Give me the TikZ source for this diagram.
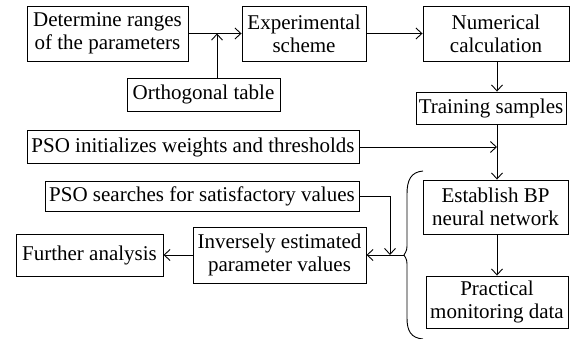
\documentclass[tikz,border=0pt]{standalone}
\usepackage{fontspec}
\setmainfont{Liberation Serif}
\usetikzlibrary{arrows.meta, calc}

\begin{document}
\begin{tikzpicture}[x=1pt, y=-1pt, line width=0.9pt,
		box/.style={draw, align=center, inner sep=1pt, font=\fontsize{21}{23}\selectfont},
		arr/.style={-{Straight Barb[length=6pt, width=11pt]}}]
		\useasboundingbox (0,0) rectangle (573,339);

		\def\spineX{497};

		\coordinate (J) at (217,33.5);
		\coordinate (spine) at (\spineX,0);
		\coordinate (tip) at (404,255);
		\coordinate (drop) at (390,255);

		\node[box, minimum width=161pt, minimum height=55pt] (det) at (107.5,33.5) {Determine ranges\\of the parameters};
		\node[box, minimum width=153pt, minimum height=33pt] (orth) at (203.5,94.5) {Orthogonal table};
		\node[box, minimum width=124pt, minimum height=55pt] (exper) at (304,33.5) {Experimental\\scheme};
		\node[box, minimum width=146pt, minimum height=55pt] (numcalc) at (496,33.5) {Numerical\\calculation};
		\node[box, minimum width=150pt, minimum height=32pt] (train) at (491,108) {Training samples};
		\node[box, minimum width=332pt, minimum height=33pt] (psoinit) at (193,147) {PSO initializes weights and thresholds};
		\node[box, minimum width=314pt, minimum height=30pt] (psosearch) at (202,196.5) {PSO searches for satisfactory values};
		\node[box, minimum width=145pt, minimum height=54pt] (bpnet) at (495.5,207) {Establish BP\\neural network};
		\node[box, minimum width=142pt, minimum height=52pt] (practical) at (497,302) {Practical\\monitoring data};
		\node[box, minimum width=173pt, minimum height=56pt] (inverse) at (279.5,255) {Inversely estimated\\parameter values};
		\node[box, minimum width=147pt, minimum height=42pt] (further) at (89.5,255) {Further analysis};

		\draw[arr] (det) -- (exper);
		\draw[arr] (orth.north -| J) -- (J);
		\draw[arr] (exper) -- (numcalc);
		\draw[arr] (numcalc.south -| spine) -- (train.north -| spine);
		\draw[arr] (train.south -| spine) -- (bpnet.north -| spine);
		\draw[arr] (psoinit) -- (psoinit -| spine);
		\draw[arr] (bpnet.south -| spine) -- (practical.north -| spine);

		% brace round the network part
		\draw (423,171) .. controls (411,172) and (407,180) .. (407,194) -- (407,242)
			.. controls (407,250) .. (tip) .. controls (407,260) .. (407,268) -- (407,318)
			.. controls (407,331) and (411,338) .. (423,339);

		\draw[arr] (tip) -- (inverse);
		\draw[arr] (psosearch) -| (drop);
		\draw[arr] (inverse) -- (further);
	\end{tikzpicture}
\end{document}
